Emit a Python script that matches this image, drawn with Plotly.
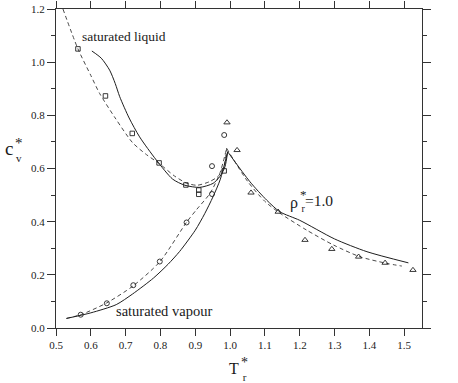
import plotly.graph_objects as go

# ---- data ----
liq_solid_x = [0.603, 0.630, 0.654, 0.670, 0.683, 0.710, 0.740, 0.788, 0.835, 0.870, 0.913, 0.951, 0.970, 0.985, 0.993]
liq_solid_y = [1.042, 1.015, 0.970, 0.920, 0.870, 0.790, 0.719, 0.632, 0.560, 0.537, 0.529, 0.544, 0.569, 0.606, 0.663]

liq_dash_x = [0.520, 0.563, 0.600, 0.625, 0.670, 0.720, 0.760, 0.798, 0.840, 0.875, 0.905, 0.940, 0.965, 0.982, 0.990]
liq_dash_y = [1.200, 1.050, 0.950, 0.883, 0.790, 0.697, 0.652, 0.617, 0.572, 0.545, 0.537, 0.550, 0.570, 0.606, 0.676]

vap_solid_x = [0.530, 0.600, 0.673, 0.720, 0.780, 0.822, 0.855, 0.900, 0.927, 0.951, 0.972, 0.993]
vap_solid_y = [0.036, 0.057, 0.088, 0.128, 0.188, 0.240, 0.288, 0.368, 0.430, 0.494, 0.560, 0.663]

vap_dash_x = [0.530, 0.573, 0.645, 0.721, 0.798, 0.875, 0.904, 0.942, 0.970, 0.990]
vap_dash_y = [0.036, 0.051, 0.094, 0.158, 0.249, 0.398, 0.446, 0.506, 0.580, 0.676]

rho_solid_x = [0.993, 1.057, 1.105, 1.143, 1.200, 1.300, 1.393, 1.512]
rho_solid_y = [0.663, 0.550, 0.481, 0.437, 0.405, 0.335, 0.287, 0.245]

rho_dash_x = [0.990, 1.050, 1.100, 1.143, 1.220, 1.297, 1.373, 1.450, 1.493]
rho_dash_y = [0.676, 0.552, 0.476, 0.432, 0.368, 0.312, 0.268, 0.243, 0.233]

sq_x = [0.563, 0.642, 0.719, 0.796, 0.873, 0.910, 0.910, 0.983]
sq_y = [1.050, 0.873, 0.732, 0.621, 0.538, 0.519, 0.503, 0.591]

ci_x = [0.571, 0.646, 0.722, 0.798, 0.875, 0.948, 0.948, 0.983]
ci_y = [0.050, 0.093, 0.161, 0.250, 0.397, 0.504, 0.609, 0.726]

tr_x = [0.991, 1.020, 1.060, 1.138, 1.215, 1.292, 1.369, 1.445, 1.525]
tr_y = [0.773, 0.669, 0.509, 0.437, 0.331, 0.297, 0.268, 0.245, 0.218]

x_ticks = [0.5, 0.6, 0.7, 0.8, 0.9, 1.0, 1.1, 1.2, 1.3, 1.4, 1.5]
y_ticks = [0.0, 0.2, 0.4, 0.6, 0.8, 1.0, 1.2]

SOLID = "#1e1e1e"
DASH = "#4a4a4a"
SERIF = "Liberation Serif"

fig = go.Figure()

def line(x, y, dashed):
    fig.add_trace(go.Scatter(
        x=x, y=y, mode="lines", showlegend=False, hoverinfo="skip",
        line=dict(color=DASH if dashed else SOLID, width=1,
                  dash="4px,3px" if dashed else "solid", shape="spline", smoothing=0.7)))

line(liq_dash_x, liq_dash_y, True)
line(vap_dash_x, vap_dash_y, True)
line(rho_dash_x, rho_dash_y, True)
line(liq_solid_x, liq_solid_y, False)
line(vap_solid_x, vap_solid_y, False)
line(rho_solid_x, rho_solid_y, False)

def markers(x, y, sym, size):
    fig.add_trace(go.Scatter(
        x=x, y=y, mode="markers", showlegend=False,
        marker=dict(symbol=sym, size=size, color="#222",
                    line=dict(color="#222", width=0.9))))

markers(sq_x, sq_y, "square-open", 4.5)
markers(ci_x, ci_y, "circle-open", 5)
markers(tr_x, tr_y, "triangle-up-open", 5.5)

def ann(xp, yp, text, size, xanchor="center"):
    fig.add_annotation(x=xp, y=yp, xref="paper", yref="paper", text=text, showarrow=False,
                       xanchor=xanchor, yanchor="middle", align="center", borderpad=0,
                       font=dict(family=SERIF, size=size, color="#1a1a1a"))

ann(0.185, 0.915, "saturated liquid", 13.5)
ann(0.2956, 0.0533, "saturated vapour", 14.5)
# rho_r* = 1.0  (superscript star stacked over subscript r)
ann(0.6653, 0.392, "ρ", 16, "right")
ann(0.6653, 0.400, "<span style='font-size:13px'>*</span><br>r", 10, "left")
ann(0.6776, 0.400, "=1.0", 15.5, "left")
# y-axis title c_v*
ann(-0.1134, 0.562, "c", 19, "right")
ann(-0.1134, 0.558, "<span style='font-size:15px'>*</span><br>v", 11, "left")
# x-axis title T_r*
ann(0.5027, -0.1254, "T", 16, "right")
ann(0.5027, -0.130, "<span style='font-size:14px'>*</span><br>r", 11, "left")

axis_common = dict(showline=True, linecolor="#333", linewidth=1, mirror="ticks",
                   ticks="outside", tickcolor="#333", tickwidth=1,
                   showgrid=False, zeroline=False, automargin=False,
                   tickfont=dict(family=SERIF, size=11, color="#222"))

fig.update_xaxes(range=[0.5, 1.551], tickvals=x_ticks,
                 ticktext=[f"{v:.1f}" for v in x_ticks], ticklen=7, **axis_common)
fig.update_yaxes(range=[0.0, 1.2], tickvals=y_ticks,
                 ticktext=[f"{v:.1f}" for v in y_ticks], ticklen=8,
                 minor=dict(dtick=0.1, ticks="outside", ticklen=4, tickcolor="#333"),
                 **axis_common)

fig.update_layout(width=458, height=383, plot_bgcolor="white", paper_bgcolor="white",
                  margin=dict(l=56, r=36, t=9, b=55, autoexpand=False))

fig.write_html("out.html", config={"displayModeBar": False},
               post_script="document.body.style.margin='0px';")
